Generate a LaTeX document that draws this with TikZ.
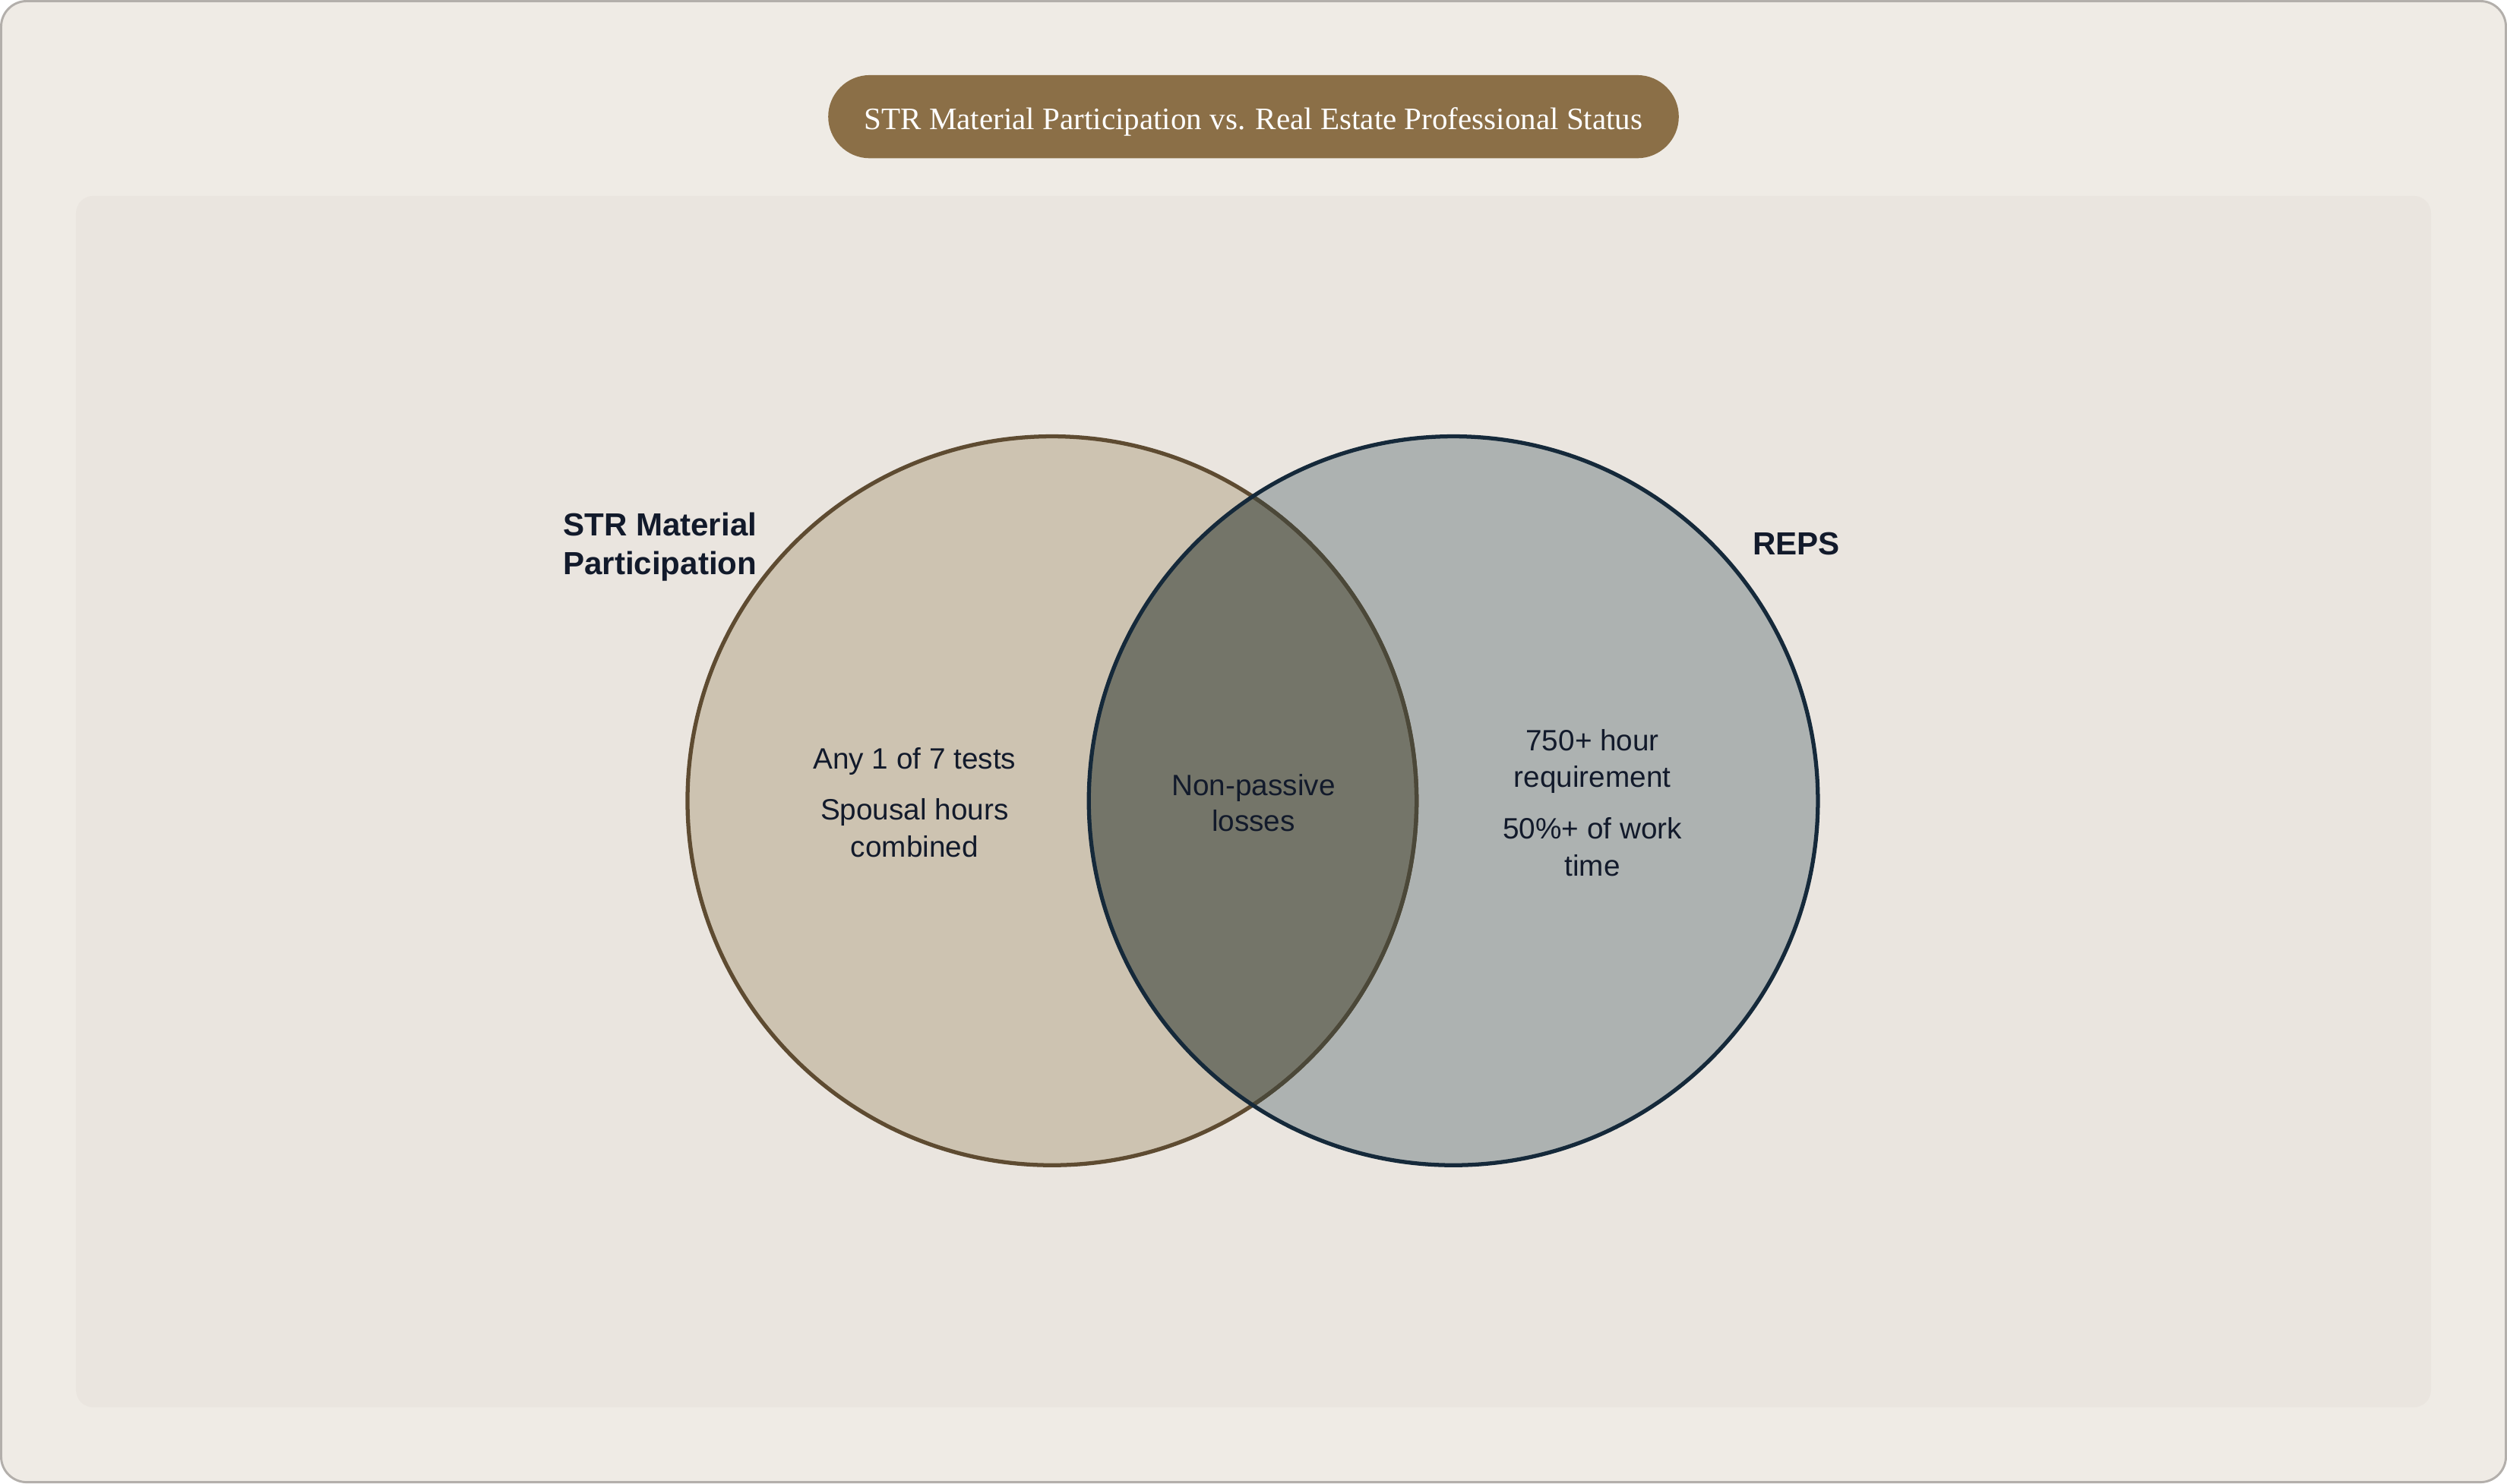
\documentclass[tikz,border=0pt]{standalone}
\usepackage{fontspec}
\setmainfont{Liberation Sans}
\newfontfamily\titlefont{Liberation Serif}
\begin{document}
\definecolor{pagebg}{HTML}{EFEBE5}
\definecolor{pageline}{HTML}{B3AFAB}
\definecolor{panelbg}{HTML}{EAE5DF}
\definecolor{titlebg}{HTML}{8B6F47}
\definecolor{strfill}{HTML}{CDC3B1}
\definecolor{strline}{HTML}{5E4B31}
\definecolor{strdim}{HTML}{4B4839}
\definecolor{repsfill}{HTML}{ADB2B1}
\definecolor{repsline}{HTML}{15293A}
\definecolor{bothfill}{HTML}{747569}
\definecolor{ink}{HTML}{121A2B}
\begin{tikzpicture}[
			x=1pt, y=-1pt,
			setlabel/.style={anchor=base west, inner sep=0pt, text=ink, font=\fontsize{20}{24}\selectfont\bfseries},
			item/.style={anchor=base, inner sep=0pt, text=ink, font=\fontsize{18.4}{23}\selectfont},
			ring/.style={line width=2.5pt}
		]
		\useasboundingbox (0,0) rectangle (1568,928);
		\draw[fill=pagebg, draw=pageline, line width=1.4pt, rounded corners=16pt] (0.7,0.7) rectangle (1567.3,927.3);
		\fill[panelbg, rounded corners=11pt] (47.5,122.5) rectangle (1520.5,880.5);
		\fill[titlebg, rounded corners=26pt] (518,47) rectangle (1050,99);
		\node[anchor=base, inner sep=0pt, text=white, font=\titlefont\fontsize{19.5}{23}\selectfont] (title) at (784,81) {STR Material Participation vs. Real Estate Professional Status};
		\coordinate (strc) at (658,501);
		\coordinate (repsc) at (909,501);
		\fill[strfill] (strc) circle (228pt);
		\fill[repsfill] (repsc) circle (228pt);
		\begin{scope}
			\clip (strc) circle (228pt);
			\fill[bothfill] (repsc) circle (228pt);
		\end{scope}
		\draw[ring, strline] (strc) circle (228pt);
		\begin{scope}
			\clip (repsc) circle (228pt);
			\draw[ring, strdim] (strc) circle (228pt);
		\end{scope}
		\draw[ring, repsline] (repsc) circle (228pt);
		\node[setlabel] (strname) at (352,335) {STR Material};
		\node[setlabel] (strname2) at (352,359.5) {Participation};
		\node[setlabel] (repsname) at (1096,347) {REPS};
		\node[item] (strtests) at (572,481) {Any 1 of 7 tests};
		\node[item] (strspouse) at (572,513) {Spousal hours};
		\node[item] (strspouse2) at (572,536) {combined};
		\node[item] (bothloss) at (784,497.5) {Non-passive};
		\node[item] (bothloss2) at (784,520) {losses};
		\node[item] (repshours) at (996,469.5) {750+ hour};
		\node[item] (repshours2) at (996,492.5) {requirement};
		\node[item] (repstime) at (996,525) {50\%+ of work};
		\node[item] (repstime2) at (996,548) {time};
	\end{tikzpicture}
\end{document}
